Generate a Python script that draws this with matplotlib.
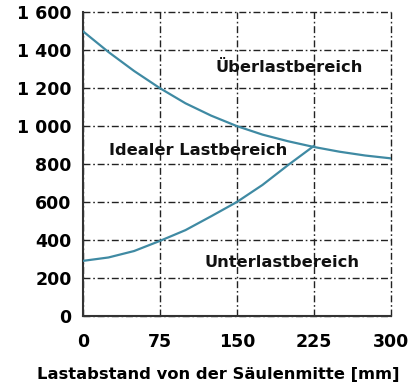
import matplotlib
matplotlib.use("Agg")
import matplotlib.pyplot as plt

# Data
x_upper = [0, 25, 50, 75, 100, 125, 150, 175, 200, 225, 250, 275, 300]
y_upper = [1500, 1390, 1290, 1200, 1120, 1055, 1000, 955, 920, 890, 865, 845, 830]
x_lower = [0, 25, 50, 75, 100, 125, 150, 175, 200, 225]
y_lower = [290, 308, 342, 395, 452, 525, 600, 690, 795, 895]
x_ticks = [0, 75, 150, 225, 300]
y_ticks = [0, 200, 400, 600, 800, 1000, 1200, 1400, 1600]
y_tick_labels = ["0", "200", "400", "600", "800", "1 000", "1 200", "1 400", "1 600"]
region_labels = ["Überlastbereich", "Idealer Lastbereich", "Unterlastbereich"]
region_pos = [(129, 1310), (26, 873), (119, 284)]
x_label = "Lastabstand von der Säulenmitte [mm]"

plt.rcParams['font.family'] = ['DejaVu Sans']
fig = plt.figure(figsize=(4.14, 3.92), dpi=100)
ax = fig.add_axes([0.200, 0.194, 0.744, 0.775])

color = '#3f8aa3'
ax.plot(x_upper, y_upper, color=color, lw=1.6, zorder=3)
ax.plot(x_lower, y_lower, color=color, lw=1.6, zorder=3)

ax.set_xlim(0, 300)
ax.set_ylim(0, 1600)
ax.set_xticks(x_ticks)
ax.set_xticklabels([str(v) for v in x_ticks])
ax.set_yticks(y_ticks)
ax.set_yticklabels(y_tick_labels)
ax.tick_params(axis='y', length=0, labelsize=12.5, pad=8)
ax.tick_params(axis='x', length=0, labelsize=12.5, pad=12)
for lab in ax.get_xticklabels() + ax.get_yticklabels():
    lab.set_fontweight('bold')

ax.grid(True, color='#222222', lw=1.0, linestyle=(0, (5, 2, 1.2, 2)))
for gl in ax.get_xgridlines() + ax.get_ygridlines():
    gl.set_clip_on(False)

ax.spines['top'].set_visible(False)
ax.spines['right'].set_visible(False)
ax.spines['left'].set_color('#333333')
ax.spines['bottom'].set_color('#333333')
ax.spines['left'].set_linewidth(1.5)
ax.spines['bottom'].set_linewidth(1.5)

for txt, (tx, ty) in zip(region_labels, region_pos):
    ax.text(tx, ty, txt, ha='left', va='center', fontsize=11.7,
            fontweight='bold', color='#111111', zorder=4)

fig.text(218 / 414, 1 - 375 / 392, x_label, ha='center', va='center',
         fontsize=11.8, fontweight='bold', color='black')

fig.savefig("out.png", dpi=100)
